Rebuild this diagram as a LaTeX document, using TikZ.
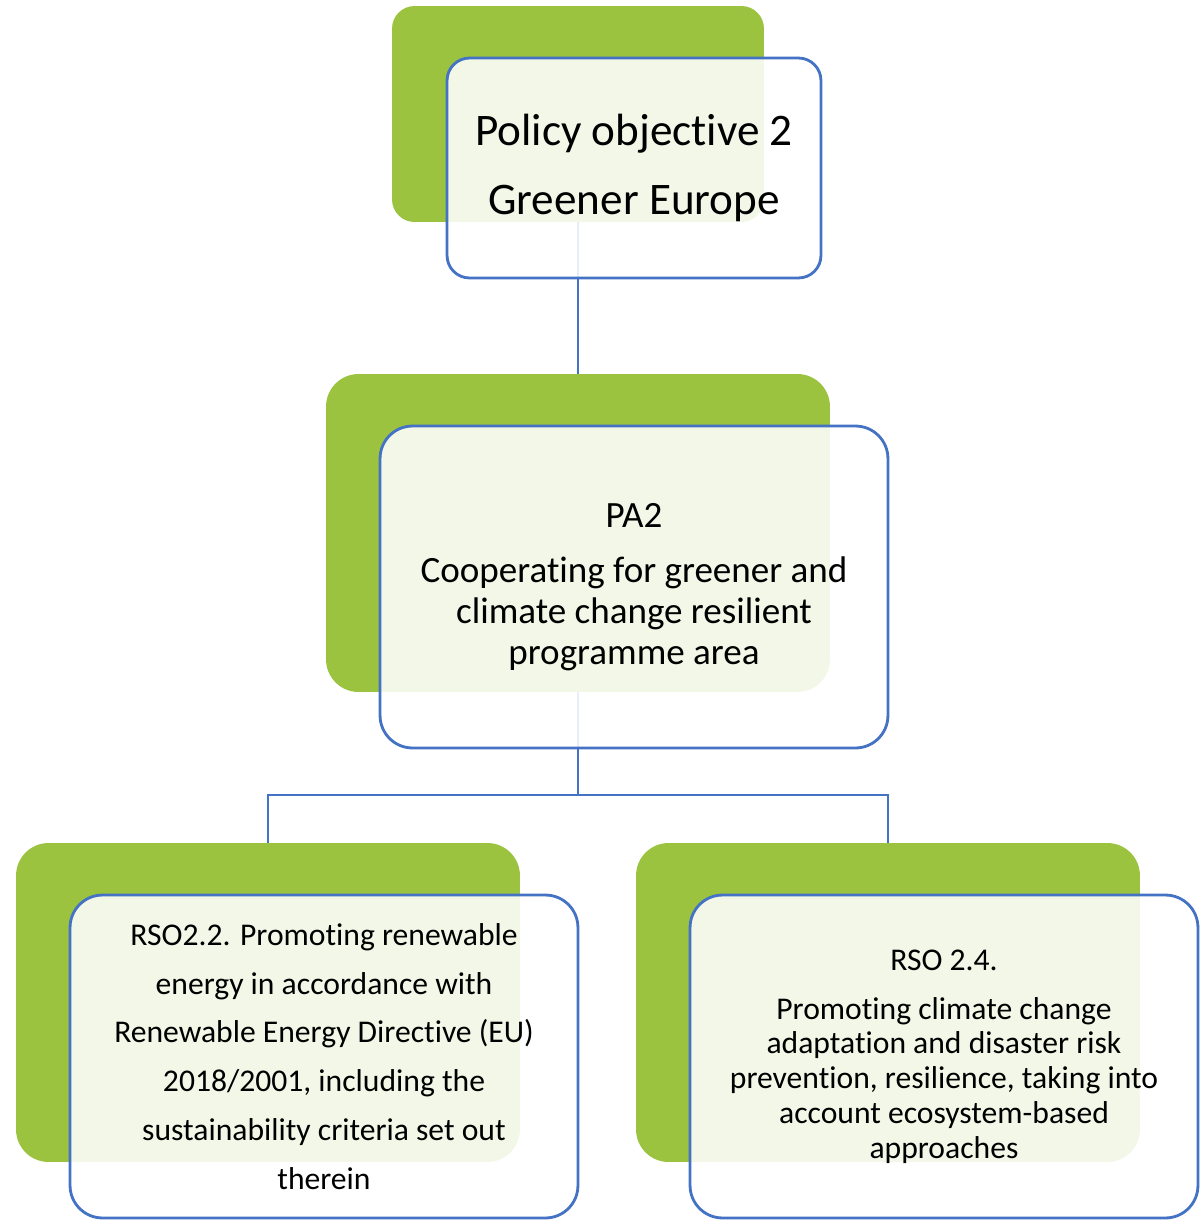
\documentclass[tikz,border=0pt]{standalone}
\usepackage{fontspec}
\setmainfont{Carlito}[Ligatures={NoCommon}]
\definecolor{leafgreen}{RGB}{155,195,64}
\definecolor{edgeblue}{RGB}{68,114,196}

\begin{document}
\begin{tikzpicture}[x=0.02cm, y=-0.02cm,
		greenbox/.style={fill=leafgreen, rounded corners=0.65cm, inner sep=0pt},
		whitebox/.style={draw=edgeblue, line width=1.6pt, fill=white, fill opacity=0.88, text opacity=1, rounded corners=0.65cm, align=center, inner sep=0pt},
		conn/.style={draw=edgeblue, line width=1.6pt}]
	
	\useasboundingbox (0,0) rectangle (1204,1221);
	
	% green back boxes
	\node[greenbox, rounded corners=0.45cm, minimum width=7.44cm, minimum height=4.32cm] (pogreen) at (578,114) {};
	\node[greenbox, minimum width=10.08cm, minimum height=6.36cm] (pagreen) at (578,533) {};
	\node[greenbox, minimum width=10.08cm, minimum height=6.38cm] (rsoagreen) at (268,1002.5) {};
	\node[greenbox, minimum width=10.08cm, minimum height=6.38cm] (rsobgreen) at (888,1002.5) {};
	
	% connectors
	\coordinate (split) at (578,795);
	\draw[conn] (pogreen.south) -- (pagreen.north);
	\draw[conn] (pagreen.south) -- (split);
	\draw[conn] (rsoagreen.north) |- (split) -| (rsobgreen.north);
	
	% text boxes
	\node[whitebox, rounded corners=0.45cm, minimum width=7.48cm, minimum height=4.4cm, font=\fontsize{25.7}{39.7}\selectfont] (po) at (634,168)
		{Policy objective 2\\Greener Europe};
	\node[whitebox, minimum width=10.16cm, minimum height=6.44cm, font=\fontsize{21.1}{23.2}\selectfont] (pa) at (634,587)
		{PA2\\[8.5pt]Cooperating for greener and\\climate change resilient\\programme area};
	\node[whitebox, minimum width=10.16cm, minimum height=6.46cm, font=\fontsize{18}{27.8}\selectfont] (rsoa) at (324,1056.5)
		{RSO2.2. Promoting renewable\\energy in accordance with\\Renewable Energy Directive (EU)\\2018/2001, including the\\sustainability criteria set out\\therein};
	\node[whitebox, minimum width=10.16cm, minimum height=6.46cm, font=\fontsize{18}{19.8}\selectfont] (rsob) at (944,1056.5)
		{RSO 2.4.\\[8pt]Promoting climate change\\adaptation and disaster risk\\prevention, resilience, taking into\\account ecosystem-based\\approaches};
\end{tikzpicture}
\end{document}
